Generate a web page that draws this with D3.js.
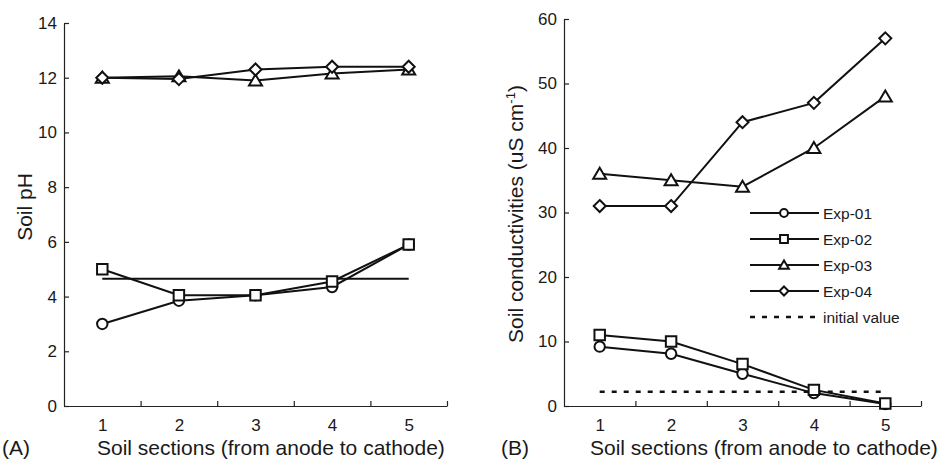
<!DOCTYPE html>
<html>
<head>
<meta charset="utf-8">
<script src="https://cdn.jsdelivr.net/npm/d3@7"></script>
<style>
  body { margin: 0; background: #fff; }
  svg { display: block; font-family: "Liberation Sans", Arial, sans-serif; }
</style>
</head>
<body>
<div id="chart"></div>
<script>
// data
var sections = [1, 2, 3, 4, 5]
var sectionTicks = [1.5, 2.5, 3.5, 4.5, 5.5]
var seriesNames = ['Exp-01', 'Exp-02', 'Exp-03', 'Exp-04']
var seriesSymbols = ['circle', 'square', 'triangle', 'diamond']

var phTicks = [0, 2, 4, 6, 8, 10, 12, 14]
var phExp01 = [3.0, 3.85, 4.05, 4.35, 5.9]
var phExp02 = [5.0, 4.05, 4.05, 4.55, 5.9]
var phExp03 = [12.0, 12.05, 11.9, 12.15, 12.3]
var phExp04 = [12.0, 11.95, 12.3, 12.4, 12.4]
var phInitial = 4.65

var condTicks = [0, 10, 20, 30, 40, 50, 60]
var condExp01 = [9.2, 8.1, 5.0, 2.0, 0.3]
var condExp02 = [11.0, 10.0, 6.5, 2.5, 0.4]
var condExp03 = [36, 35, 34, 40, 48]
var condExp04 = [31, 31, 44, 47, 57]
var condInitial = 2.2

var width = 945
var height = 460
var ink = '#111'
var textInk = '#1a1a1a'

var svg = d3.select('#chart')
  .append('svg')
  .attr('width', width)
  .attr('height', height)

// marker outlines; s scales the size (legend uses smaller ones)
function symbolPath(kind, s) {
  s = s || 1
  if (kind === 'circle') return d3.symbol(d3.symbolCircle, 85 * s * s)()
  if (kind === 'square') return d3.symbol(d3.symbolSquare, 110 * s * s)()
  var p = d3.path()
  if (kind === 'triangle') {
    p.moveTo(0, -6 * s); p.lineTo(6.5 * s, 5 * s); p.lineTo(-6.5 * s, 5 * s); p.closePath()
  } else {
    p.moveTo(0, -6 * s); p.lineTo(6 * s, 0); p.lineTo(0, 6 * s); p.lineTo(-6 * s, 0); p.closePath()
  }
  return p.toString()
}

function drawPanel(opts) {
  var x = d3.scaleLinear().domain([0.5, 5.5]).range(opts.xRange)
  var y = d3.scaleLinear().domain(opts.yDomain).range([406, opts.yTop])
  var g = svg.append('g')

  // y axis, inward ticks
  g.append('g')
    .attr('transform', 'translate(' + opts.xRange[0] + ',0)')
    .call(d3.axisLeft(y).tickValues(opts.yTicks).tickSize(-5).tickSizeOuter(0).tickPadding(7))
  // x axis: tick marks between sections
  g.append('g')
    .attr('transform', 'translate(0,406)')
    .call(d3.axisBottom(x).tickValues(sectionTicks).tickSize(-5).tickSizeOuter(0).tickFormat(''))
  // x labels on the sections
  var xLabels = g.append('g')
    .attr('transform', 'translate(0,406)')
    .call(d3.axisBottom(x).tickValues(sections).tickSize(0).tickPadding(13).tickFormat(d3.format('d')))
  xLabels.select('.domain').remove()

  g.selectAll('.domain, .tick line').attr('stroke', '#222').attr('stroke-width', 1.2)
  g.selectAll('.tick text').attr('font-size', 17).attr('fill', textInk)
    .attr('font-family', '"Liberation Sans", Arial, sans-serif')

  // initial value line
  g.append('line')
    .attr('x1', x(1)).attr('x2', x(5))
    .attr('y1', y(opts.initial)).attr('y2', y(opts.initial))
    .attr('stroke', ink)
    .attr('stroke-width', opts.initialDash ? 2.6 : 2)
    .attr('stroke-dasharray', opts.initialDash || null)

  var line = d3.line()
    .x(function (d, i) { return x(sections[i]) })
    .y(function (d) { return y(d) })

  opts.series.forEach(function (vals) {
    g.append('path')
      .datum(vals)
      .attr('d', line)
      .attr('fill', 'none')
      .attr('stroke', ink)
      .attr('stroke-width', 2)
  })
  opts.series.forEach(function (vals, k) {
    g.selectAll(null)
      .data(vals)
      .enter()
      .append('path')
      .attr('d', symbolPath(seriesSymbols[k]))
      .attr('transform', function (d, i) { return 'translate(' + x(sections[i]) + ',' + y(d) + ')' })
      .attr('fill', '#fff')
      .attr('stroke', ink)
      .attr('stroke-width', 2)
  })

  // axis titles
  g.append('text')
    .attr('x', opts.xTitleX)
    .attr('y', 455)
    .attr('font-size', 21)
    .attr('fill', textInk)
    .text('Soil sections (from anode to cathode)')
  g.append('text')
    .attr('x', opts.panelX)
    .attr('y', 455)
    .attr('font-size', 21)
    .attr('fill', textInk)
    .text(opts.panel)

  return {x: x, y: y, g: g}
}

var left = drawPanel({
  xRange: [64, 447], yDomain: [0, 14], yTop: 23, yTicks: phTicks,
  series: [phExp01, phExp02, phExp03, phExp04],
  initial: phInitial, initialDash: null,
  xTitleX: 97, panelX: 2, panel: '(A)'
})

left.g.append('text')
  .attr('transform', 'translate(32,207) rotate(-90)')
  .attr('text-anchor', 'middle')
  .attr('font-size', 21)
  .attr('fill', textInk)
  .text('Soil pH')

var right = drawPanel({
  xRange: [564, 921], yDomain: [0, 60], yTop: 19, yTicks: condTicks,
  series: [condExp01, condExp02, condExp03, condExp04],
  initial: condInitial, initialDash: '5,7',
  xTitleX: 590, panelX: 501, panel: '(B)'
})

var yTitle = right.g.append('text')
  .attr('transform', 'translate(523,214) rotate(-90)')
  .attr('text-anchor', 'middle')
  .attr('font-size', 21)
  .attr('fill', textInk)
yTitle.append('tspan').text('Soil conductivities (uS cm')
yTitle.append('tspan').attr('font-size', 13).attr('dy', -8).text('-1')
yTitle.append('tspan').attr('dy', 8).text(')')

// legend
var legendNames = seriesNames.concat(['initial value'])
var legend = right.g.append('g')
  .attr('transform', 'translate(750,213)')

legendNames.forEach(function (name, i) {
  var row = legend.append('g').attr('transform', 'translate(0,' + (i * 26) + ')')
  row.append('line')
    .attr('x1', 0).attr('x2', 69)
    .attr('stroke', ink)
    .attr('stroke-width', i < 4 ? 2 : 2.6)
    .attr('stroke-dasharray', i < 4 ? null : '5,7')
  if (i < 4) {
    row.append('path')
      .attr('d', symbolPath(seriesSymbols[i], 0.75))
      .attr('transform', 'translate(34,0)')
      .attr('fill', '#fff')
      .attr('stroke', ink)
      .attr('stroke-width', 2)
  }
  row.append('text')
    .attr('x', 73)
    .attr('y', 6)
    .attr('font-size', 15.5)
    .attr('fill', textInk)
    .text(name)
})
</script>
</body>
</html>
